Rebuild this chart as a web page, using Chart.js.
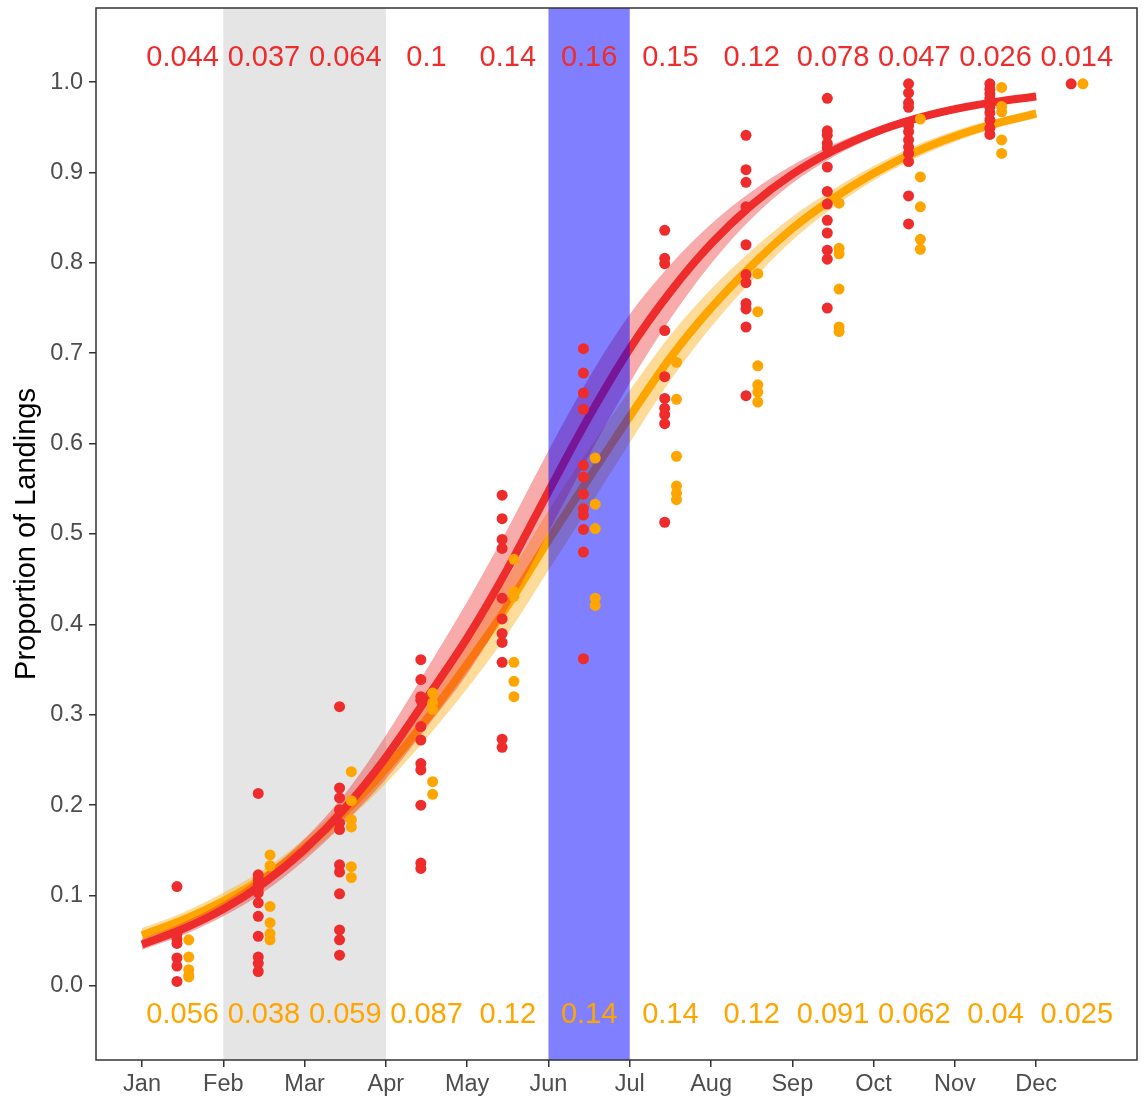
<!DOCTYPE html>
<html>
<head>
<meta charset="utf-8">
<script src="https://cdn.jsdelivr.net/npm/chart.js@4.4.1/dist/chart.umd.min.js"></script>
<style>
  html, body { margin: 0; padding: 0; background: #fff; }
  canvas { display: block; }
</style>
</head>
<body>
<canvas id="c" width="1144" height="1097"></canvas>
<script>
// --- data ---
const monthLabels = ['Jan', 'Feb', 'Mar', 'Apr', 'May', 'Jun', 'Jul', 'Aug', 'Sep', 'Oct', 'Nov', 'Dec'];
const monthPos = [1, 2, 3, 4, 5, 6, 7, 8, 9, 10, 11, 12];
const yTickVals = [0, 0.1, 0.2, 0.3, 0.4, 0.5, 0.6, 0.7, 0.8, 0.9, 1.0];

// fitted curves, sampled every half month
const curveX = [1, 1.5, 2, 2.5, 3, 3.5, 4, 4.5, 5, 5.5, 6, 6.5, 7, 7.5, 8, 8.5, 9, 9.5, 10, 10.5, 11, 11.5, 12];
const redFit = [0.046, 0.063, 0.085, 0.114, 0.151, 0.197, 0.253, 0.318, 0.385, 0.462, 0.547, 0.630, 0.705, 0.768, 0.821, 0.864, 0.898, 0.924, 0.944, 0.959, 0.970, 0.978, 0.984];
const redUpper = [0.052, 0.070, 0.093, 0.124, 0.163, 0.213, 0.277, 0.350, 0.425, 0.506, 0.592, 0.673, 0.743, 0.798, 0.843, 0.879, 0.908, 0.931, 0.949, 0.963, 0.974, 0.981, 0.987];
const redLower = [0.040, 0.056, 0.077, 0.104, 0.139, 0.181, 0.229, 0.286, 0.345, 0.418, 0.502, 0.587, 0.667, 0.738, 0.799, 0.849, 0.888, 0.917, 0.939, 0.955, 0.966, 0.975, 0.981];
const orangeFit = [0.056, 0.073, 0.094, 0.120, 0.153, 0.193, 0.240, 0.295, 0.356, 0.421, 0.493, 0.562, 0.630, 0.695, 0.750, 0.797, 0.838, 0.871, 0.899, 0.922, 0.940, 0.954, 0.965];
const orangeUpper = [0.064, 0.081, 0.103, 0.129, 0.163, 0.205, 0.256, 0.316, 0.383, 0.452, 0.526, 0.594, 0.659, 0.720, 0.771, 0.814, 0.851, 0.881, 0.907, 0.929, 0.946, 0.959, 0.970];
const orangeLower = [0.048, 0.065, 0.085, 0.111, 0.143, 0.181, 0.224, 0.274, 0.329, 0.390, 0.460, 0.530, 0.601, 0.670, 0.729, 0.780, 0.825, 0.861, 0.891, 0.915, 0.934, 0.949, 0.960];

// observed proportions per month
const redPoints = [
  [0.110, 0.058, 0.052, 0.047, 0.031, 0.022, 0.005],
  [0.213, 0.123, 0.118, 0.113, 0.108, 0.103, 0.092, 0.077, 0.055, 0.032, 0.025, 0.016],
  [0.309, 0.219, 0.208, 0.195, 0.180, 0.173, 0.134, 0.126, 0.102, 0.062, 0.051, 0.034],
  [0.361, 0.339, 0.320, 0.316, 0.287, 0.272, 0.246, 0.239, 0.200, 0.136, 0.130],
  [0.543, 0.517, 0.494, 0.484, 0.429, 0.406, 0.390, 0.380, 0.358, 0.273, 0.264],
  [0.705, 0.678, 0.656, 0.638, 0.576, 0.563, 0.544, 0.528, 0.521, 0.505, 0.480, 0.362],
  [0.836, 0.805, 0.799, 0.725, 0.674, 0.650, 0.639, 0.632, 0.622, 0.513],
  [0.941, 0.903, 0.889, 0.862, 0.820, 0.787, 0.778, 0.755, 0.749, 0.729, 0.653],
  [0.982, 0.946, 0.941, 0.932, 0.927, 0.906, 0.879, 0.865, 0.847, 0.833, 0.814, 0.804, 0.750],
  [0.998, 0.988, 0.977, 0.972, 0.952, 0.945, 0.936, 0.928, 0.921, 0.912, 0.874, 0.843],
  [0.998, 0.992, 0.987, 0.982, 0.977, 0.972, 0.966, 0.958, 0.949, 0.942],
  [0.998]
];
const orangePoints = [
  [0.051, 0.032, 0.018, 0.012, 0.010],
  [0.145, 0.133, 0.088, 0.070, 0.058, 0.051],
  [0.237, 0.205, 0.184, 0.176, 0.132, 0.120],
  [0.324, 0.313, 0.306, 0.226, 0.212],
  [0.472, 0.436, 0.431, 0.358, 0.337, 0.320],
  [0.584, 0.533, 0.506, 0.429, 0.421],
  [0.690, 0.649, 0.586, 0.553, 0.545, 0.538],
  [0.788, 0.746, 0.686, 0.665, 0.657, 0.646],
  [0.866, 0.816, 0.810, 0.771, 0.729, 0.724],
  [0.959, 0.895, 0.862, 0.826, 0.815],
  [0.994, 0.973, 0.967, 0.936, 0.921],
  [0.998]
];

// monthly share labels (top = red, bottom = orange)
const redShare = ['0.044', '0.037', '0.064', '0.1', '0.14', '0.16', '0.15', '0.12', '0.078', '0.047', '0.026', '0.014'];
const orangeShare = ['0.056', '0.038', '0.059', '0.087', '0.12', '0.14', '0.14', '0.12', '0.091', '0.062', '0.04', '0.025'];

// shaded periods (in month units)
const grayPeriod = [2, 4];
const bluePeriod = [6, 7];

// --- styling ---
const RED = 'rgb(238,44,44)';
const ORANGE = 'rgb(255,165,0)';
const FONT = '"Liberation Sans", Arial, sans-serif';

const toXY = (xs, ys) => xs.map((x, i) => ({ x, y: ys[i] }));
const pointsFor = (cols, offset) => {
    const out = [];
    cols.forEach((vals, m) => vals.forEach(v => out.push({ x: monthPos[m] + offset, y: v })));
    return out;
};

const ribbon = (data, color, order, fill) => ({
    data, order, fill,
    backgroundColor: color,
    borderWidth: 0,
    pointRadius: 0,
    cubicInterpolationMode: 'monotone'
});

const datasets = [
    ribbon(toXY(curveX, orangeUpper), 'rgba(255,165,0,0.4)', 9, '+1'),
    ribbon(toXY(curveX, orangeLower), 'rgba(0,0,0,0)', 8, false),
    { data: toXY(curveX, orangeFit), order: 7, borderColor: ORANGE, borderWidth: 8, borderCapStyle: 'butt', pointRadius: 0, fill: false, cubicInterpolationMode: 'monotone' },
    ribbon(toXY(curveX, redUpper), 'rgba(238,44,44,0.4)', 6, '+1'),
    ribbon(toXY(curveX, redLower), 'rgba(0,0,0,0)', 5, false),
    { data: toXY(curveX, redFit), order: 4, borderColor: RED, borderWidth: 8, borderCapStyle: 'butt', pointRadius: 0, fill: false, cubicInterpolationMode: 'monotone' },
    { data: pointsFor(redPoints, 0.43), order: 2, showLine: false, pointRadius: 5.5, pointBorderWidth: 0, pointBackgroundColor: RED, fill: false },
    { data: pointsFor(orangePoints, 0.575), order: 1, showLine: false, pointRadius: 5.5, pointBorderWidth: 0, pointBackgroundColor: ORANGE, fill: false }
];
const RED_POINTS_INDEX = 6;

const decorPlugin = {
    id: 'decor',
    beforeDatasetsDraw(chart) {
        const { ctx, chartArea: a, scales: { x } } = chart;
        ctx.save();
        ctx.fillStyle = '#e5e5e5';
        const x0 = x.getPixelForValue(grayPeriod[0]);
        const x1 = x.getPixelForValue(grayPeriod[1]);
        ctx.fillRect(x0, a.top, x1 - x0, a.bottom - a.top);
        ctx.restore();
    },
    beforeDatasetDraw(chart, args) {
        if (args.index !== RED_POINTS_INDEX) return;
        const { ctx, chartArea: a, scales: { x } } = chart;
        ctx.save();
        ctx.fillStyle = 'rgba(0,0,255,0.5)';
        const x0 = x.getPixelForValue(bluePeriod[0]);
        const x1 = x.getPixelForValue(bluePeriod[1]);
        ctx.fillRect(x0, a.top, x1 - x0, a.bottom - a.top);
        ctx.restore();
    },
    afterDatasetsDraw(chart) {
        const { ctx, scales: { x, y } } = chart;
        ctx.save();
        ctx.font = '29px ' + FONT;
        ctx.textAlign = 'center';
        ctx.textBaseline = 'middle';
        monthPos.forEach((m, i) => {
            const px = x.getPixelForValue(m + 0.5);
            ctx.fillStyle = RED;
            ctx.fillText(redShare[i], px, y.getPixelForValue(1.027));
            ctx.fillStyle = ORANGE;
            ctx.fillText(orangeShare[i], px, y.getPixelForValue(-0.032));
        });
        ctx.restore();
    },
    afterDraw(chart) {
        const { ctx, chartArea: a } = chart;
        ctx.save();
        ctx.strokeStyle = '#333333';
        ctx.lineWidth = 1.5;
        ctx.strokeRect(a.left, a.top, a.right - a.left, a.bottom - a.top);
        ctx.restore();
    }
};

new Chart(document.getElementById('c'), {
    type: 'line',
    data: { datasets },
    plugins: [decorPlugin],
    options: {
        responsive: false,
        devicePixelRatio: 1,
        animation: false,
        layout: { padding: { left: 0, right: 7, top: 8, bottom: 0 } },
        plugins: {
            legend: { display: false },
            tooltip: { enabled: false }
        },
        scales: {
            x: {
                type: 'linear',
                min: 0.434,
                max: 13.24,
                afterBuildTicks: s => { s.ticks = monthPos.map(v => ({ value: v })); },
                afterFit: s => { s.height = 37; s.paddingLeft = 0; s.paddingRight = 0; },
                grid: { drawOnChartArea: false, drawTicks: true, tickLength: 7, color: '#333333', lineWidth: 1.5 },
                border: { display: false },
                ticks: {
                    autoSkip: false,
                    maxRotation: 0,
                    padding: 3,
                    color: '#4d4d4d',
                    font: { family: FONT, size: 23.5 },
                    callback: v => monthLabels[monthPos.indexOf(v)]
                }
            },
            y: {
                min: -0.0819,
                max: 1.0819,
                afterBuildTicks: s => { s.ticks = yTickVals.map(v => ({ value: v })); },
                afterFit: s => { s.width = 96; s.paddingTop = 0; s.paddingBottom = 0; },
                grid: { drawOnChartArea: false, drawTicks: true, tickLength: 7, color: '#333333', lineWidth: 1.5 },
                border: { display: false },
                ticks: {
                    padding: 6,
                    color: '#4d4d4d',
                    font: { family: FONT, size: 23.5 },
                    callback: v => v.toFixed(1)
                },
                title: {
                    display: true,
                    text: 'Proportion of Landings',
                    color: '#000000',
                    font: { family: FONT, size: 29 },
                    padding: { top: 10, bottom: 0 }
                }
            }
        }
    }
});
</script>
</body>
</html>
